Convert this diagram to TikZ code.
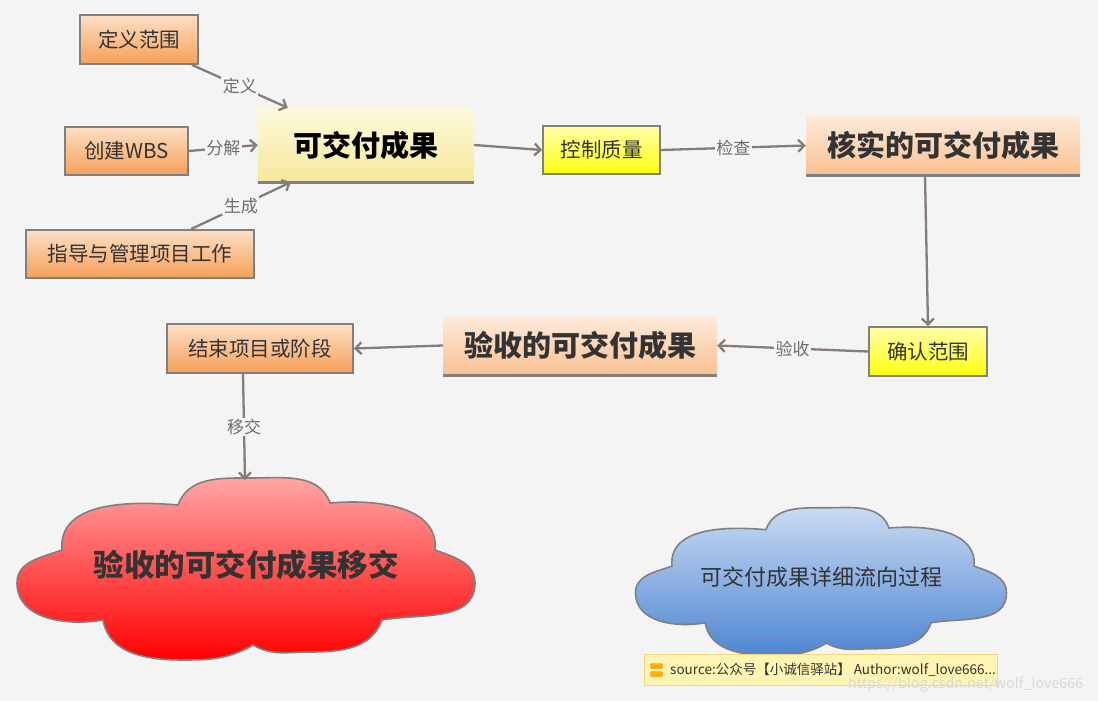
\documentclass[tikz,border=0pt]{standalone}
\usepackage{fontspec}
\setmainfont{Noto Sans CJK SC}
\usetikzlibrary{arrows.meta}
\definecolor{bg}{HTML}{F4F4F4}
\definecolor{boxgray}{HTML}{808080}
\definecolor{edgec}{HTML}{877C76}
\definecolor{labgray}{HTML}{6E6E6E}
\definecolor{txt}{HTML}{333333}
\definecolor{orT}{HTML}{FDDFC6}
\definecolor{orB}{HTML}{F6A058}
\definecolor{yeT}{HTML}{FFFFA8}
\definecolor{yeB}{HTML}{FFFF10}
\definecolor{lyT}{HTML}{FEFADB}
\definecolor{lyB}{HTML}{F5E89C}
\definecolor{peT}{HTML}{FEEADB}
\definecolor{peB}{HTML}{F9C192}
\definecolor{rdT}{HTML}{FFAAAA}
\definecolor{rdB}{HTML}{FF0000}
\definecolor{blT}{HTML}{CCDDF2}
\definecolor{blB}{HTML}{4F86D2}
\definecolor{srcfill}{HTML}{FFF4B3}
\definecolor{srcline}{HTML}{F3D870}
\begin{document}
\begin{tikzpicture}[x=1pt,y=1pt,
  basebox/.style={inner sep=0pt, text=txt, font=\fontsize{20.5}{24}\selectfont},
  orbox/.style={basebox, draw=boxgray, line width=1.8pt, top color=orT, bottom color=orB},
  yebox/.style={basebox, draw=boxgray, line width=1.8pt, top color=yeT, bottom color=yeB},
  bigbox/.style={basebox, font=\fontsize{29}{34}\selectfont\bfseries},
  edge/.style={draw=edgec, line width=2.3pt, -{Straight Barb[length=6pt,width=12pt]}},
  elabel/.style={fill=bg, text=labgray, inner sep=1.5pt, font=\fontsize{17}{20}\selectfont},
  baseline/.style={draw=boxgray, line width=3pt},
  cloudline/.style={draw=boxgray, line width=1.6pt}
]
\useasboundingbox[fill=bg] (0,0) rectangle (1098,-701);

% boxes
\node[orbox, minimum width=118pt, minimum height=49pt] (d1) at (139,-39.5) {定义范围};
\node[orbox, minimum width=123pt, minimum height=48pt] (d2) at (126.5,-151) {创建WBS};
\node[orbox, minimum width=228pt, minimum height=48pt] (d3) at (140,-254) {指导与管理项目工作};
\node[bigbox, top color=lyT, bottom color=lyB, text=black, minimum width=216pt, minimum height=74pt] (main) at (366,-145) {可交付成果};
\node[yebox, minimum width=117pt, minimum height=48pt] (kz) at (601.5,-150) {控制质量};
\node[bigbox, top color=peT, bottom color=peB, minimum width=274pt, minimum height=59pt] (hs) at (943,-145.5) {核实的可交付成果};
\node[yebox, minimum width=118pt, minimum height=49pt] (qr) at (928,-351.5) {确认范围};
\node[bigbox, top color=peT, bottom color=peB, minimum width=274pt, minimum height=59pt] (ys) at (580,-345.5) {验收的可交付成果};
\node[orbox, minimum width=186pt, minimum height=49pt] (js) at (260,-348.5) {结束项目或阶段};
\draw[baseline] (main.south west) -- (main.south east);
\draw[baseline] (hs.south west) -- (hs.south east);
\draw[baseline] (ys.south west) -- (ys.south east);

% red cloud
\begin{scope}[shift={(246,-569)}]
\path[cloudline, top color=rdT, bottom color=rdB]
 (-184,19) to[out=95,in=175] (-68,64) to[out=70,in=180] (5,91) to[out=0,in=110] (84,66)
 to[out=5,in=85] (189,19) to[out=-20,in=90] (229,-14) to[out=-90,in=10] (136,-51)
 to[out=-110,in=0] (64,-83) to[out=180,in=-30] (7,-76) to[out=-150,in=0] (-63,-91)
 to[out=180,in=-80] (-143,-51) to[out=-170,in=-90] (-229,-14) to[out=90,in=200] (-184,19) -- cycle;
\coordinate (redtop) at (-1,89);
\node[basebox, font=\fontsize{30.5}{36}\selectfont\bfseries] (redtext) at (0,4) {验收的可交付成果移交};
\end{scope}

% blue cloud
\begin{scope}[shift={(821,-581.5)}, scale=0.81]
\path[cloudline, top color=blT, bottom color=blB]
 (-184,19) to[out=95,in=175] (-68,64) to[out=70,in=180] (5,91) to[out=0,in=110] (84,66)
 to[out=5,in=85] (189,19) to[out=-20,in=90] (229,-14) to[out=-90,in=10] (136,-51)
 to[out=-110,in=0] (64,-83) to[out=180,in=-30] (7,-76) to[out=-150,in=0] (-63,-91)
 to[out=180,in=-80] (-143,-51) to[out=-170,in=-90] (-229,-14) to[out=90,in=200] (-184,19) -- cycle;
\node[basebox, font=\fontsize{22}{26}\selectfont] (bluetext) at (0,5) {可交付成果详细流向过程};
\end{scope}

% edges
\draw[edge] ([xshift=53pt]d1.south) -- node[elabel]{定义} ([xshift=30pt]main.north west);
\draw[edge] (d2.east) -- node[elabel]{分解} (main.west);
\draw[edge] ([xshift=51pt]d3.north) -- node[elabel]{生成} ([xshift=33pt]main.south west);
\draw[edge] (main.east) -- (kz.west);
\draw[edge] (kz.east) -- node[elabel]{检查} (hs.west);
\draw[edge] ([xshift=-18pt]hs.south) -- (qr.north);
\draw[edge] (qr.west) -- node[elabel]{验收} (ys.east);
\draw[edge] (ys.west) -- (js.east);
\draw[edge] ([xshift=-17pt]js.south) -- node[elabel]{移交} (redtop);

% source bar
\node[draw=srcline, fill=srcfill, line width=1pt, minimum width=353pt, minimum height=31pt, inner sep=0pt] (src) at (820.5,-669.5) {};
\node[draw=orange!80!brown, fill=orange!60!yellow, rounded corners=1pt, minimum width=12pt, minimum height=5pt, inner sep=0pt] (ic1) at (656.5,-666) {};
\node[draw=orange!80!brown, fill=orange!60!yellow, rounded corners=1pt, minimum width=12pt, minimum height=5pt, inner sep=0pt] (ic2) at (656.5,-674) {};
\node[anchor=west, inner sep=0pt, text=txt, font=\fontsize{13.5}{16}\selectfont] (srctext) at (670,-669.5) {source:公众号【小诚信驿站】 Author:wolf\_love666...};
\node[anchor=west, inner sep=0pt, text=black!15, font=\fontsize{14.3}{17}\selectfont] (wm) at (848,-684) {https://blog.csdn.net/wolf\_love666};
\end{tikzpicture}
\end{document}
